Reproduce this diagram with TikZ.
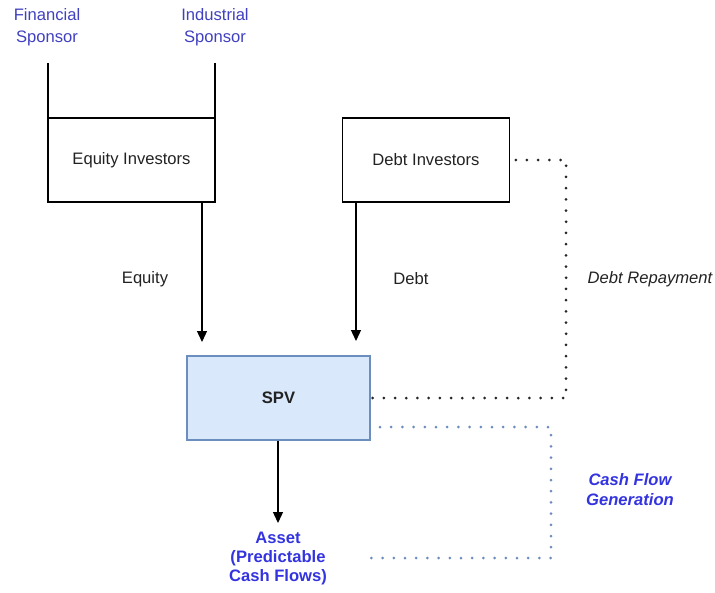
\documentclass[tikz,border=0pt]{standalone}
\usepackage{fontspec}
\setmainfont{Liberation Sans}
\usetikzlibrary{arrows.meta}
\definecolor{sponsorblue}{HTML}{4040C0}
\definecolor{assetblue}{HTML}{3333E0}
\definecolor{spvfill}{HTML}{DAE8FC}
\definecolor{spvdraw}{HTML}{6C8EBF}
\definecolor{txt}{HTML}{222222}
\tikzset{
  box/.style={draw=black, line width=1.3pt, minimum width=167pt, minimum height=84pt, inner sep=0pt, font=\fontsize{16.6}{19}\selectfont, text=txt},
  lbl/.style={inner sep=0pt, align=center, font=\fontsize{16.6}{22}\selectfont},
  arr/.style={draw=black, line width=1.3pt, -{Triangle[length=11pt,width=10pt]}},
  dotline/.style={line width=3pt, line cap=round, dash pattern=on 0pt off 11.2pt},
}
\begin{document}
\begin{tikzpicture}[x=1pt,y=-1pt]
\useasboundingbox (0,0) rectangle (715,592);
% boxes
\node[box] (eq) at (131.5,160) {Equity Investors};
\node[box] (debt) at (426,160) {Debt Investors};
\node[box, draw=spvdraw, fill=spvfill, minimum width=183pt, font=\fontsize{16.6}{19}\selectfont\bfseries] (spv) at (278.5,398) {SPV};
% sponsor labels
\node[lbl, text=sponsorblue] (fin) at (47,27) {Financial\\Sponsor};
\node[lbl, text=sponsorblue] (ind) at (215,27) {Industrial\\Sponsor};
\coordinate (fintop) at (48,63);
\coordinate (indtop) at (215,63);
\draw[line width=1.3pt] (fintop) -- (fintop |- eq.north);
\draw[line width=1.3pt] (indtop) -- (indtop |- eq.north);
% arrows
\coordinate (eqtip) at (202,342);
\coordinate (debttip) at (356,341);
\coordinate (assettip) at (278,523);
\draw[arr] (eq.south west -| eqtip) -- (eqtip);
\draw[arr] (debt.south west -| debttip) -- (debttip);
\draw[arr] (spv.south west -| assettip) -- (assettip);
\node[lbl, text=txt] (eqlbl) at (145,279) {Equity};
\node[lbl, text=txt] (debtlbl) at (411,279) {Debt};
% asset
\node[lbl, text=assetblue, font=\fontsize{16.6}{19}\selectfont\bfseries] (asset) at (278,559) {Asset\\(Predictable\\Cash Flows)};
% debt repayment
\coordinate (dr1) at (566,160);
\coordinate (dr2) at (566,398);
\draw[dotline, black!85] ([xshift=2pt]spv.east) -- (dr2) -- (dr1) -- ([xshift=2pt]debt.east);
\node[lbl, text=txt, font=\fontsize{16.6}{19}\selectfont\itshape] (drlbl) at (650,279) {Debt Repayment};
% cash flow
\coordinate (cf0) at (380,427);
\coordinate (cf1) at (551,427);
\coordinate (cf2) at (551,558);
\coordinate (cf3) at (370,558);
\draw[dotline, spvdraw] (cf0) -- (cf1) -- (cf2) -- (cf3);
\node[lbl, text=assetblue, font=\fontsize{16.6}{20}\selectfont\bfseries\itshape] (cflbl) at (630,490) {Cash Flow\\Generation};
\end{tikzpicture}
\end{document}
